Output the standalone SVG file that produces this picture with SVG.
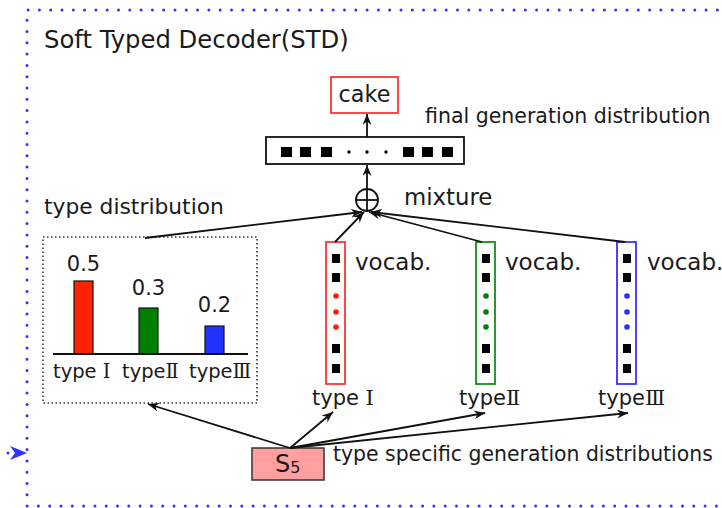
<svg xmlns="http://www.w3.org/2000/svg" width="722" height="508" viewBox="0 0 722 508">
<style>
text{font-family:"DejaVu Sans","Noto Sans CJK SC",sans-serif;fill:#1a1a1a}
.conn line{stroke:#111;stroke-width:1.8;fill:none}
.sq{fill:#000}
.rn{font-family:"DejaVu Serif","Noto Sans CJK SC",serif}
</style>
<defs>
<marker id="ah" markerUnits="userSpaceOnUse" markerWidth="14" markerHeight="12" refX="11" refY="4.5" orient="auto">
<path d="M0,0 L11,4.5 L0,9 L3.5,4.5 Z" fill="#111"/>
</marker>
</defs>
<rect width="722" height="508" fill="#fff"/>
<g id="frame">
<path d="M740,10 H27 V506 H740" fill="none" stroke="#3333ff" stroke-width="3" stroke-linecap="round" stroke-dasharray="0 11.3"/>
<path d="M27,453 L10,446 L15,453 L10,460 Z" fill="#3333ff"/>
<circle cx="8" cy="453" r="1.5" fill="#3333ff"/>
<text x="44" y="48" font-size="24.3">Soft Typed Decoder(STD)</text>
</g>
<g id="cake">
<rect x="331" y="77" width="67" height="36" fill="#fff" stroke="#ff3333" stroke-width="1.8"/>
<text x="364.5" y="102" text-anchor="middle" font-size="22.3">cake</text>
</g>
<g id="final">
<rect x="266" y="137" width="198" height="27" fill="#fff" stroke="#111" stroke-width="1.8"/>
<rect class="sq" x="281" y="147" width="11" height="10"/>
<rect class="sq" x="300" y="147" width="11" height="10"/>
<rect class="sq" x="321" y="147" width="11" height="10"/>
<circle cx="349" cy="152" r="1.7"/>
<circle cx="367" cy="152" r="1.7"/>
<circle cx="386" cy="152" r="1.7"/>
<rect class="sq" x="403" y="147" width="11" height="10"/>
<rect class="sq" x="422" y="147" width="11" height="10"/>
<rect class="sq" x="442" y="147" width="11" height="10"/>
<text x="425" y="123" font-size="20.5">final generation distribution</text>
</g>
<g id="mixture">
<circle cx="367" cy="200" r="11" fill="#fff" stroke="#111" stroke-width="1.8"/>
<line x1="356" y1="200" x2="378" y2="200" stroke="#111" stroke-width="1.8"/>
<line x1="367" y1="189" x2="367" y2="211" stroke="#111" stroke-width="1.8"/>
<text x="404" y="205" font-size="22.8">mixture</text>
</g>
<g id="typedist">
<text x="44" y="214" font-size="21.8">type distribution</text>
<rect x="43" y="237" width="214" height="166" fill="none" stroke="#333" stroke-width="1.6" stroke-dasharray="1.5 2.5"/>
<rect x="74" y="281" width="19" height="73" fill="#ff2200" stroke="#111" stroke-width="1.2"/>
<rect x="139" y="308" width="19" height="46" fill="#007f00" stroke="#111" stroke-width="1.2"/>
<rect x="205" y="326" width="19" height="28" fill="#2233ff" stroke="#111" stroke-width="1.2"/>
<line x1="53" y1="354" x2="248" y2="354" stroke="#111" stroke-width="1.8"/>
<text x="83.5" y="271" text-anchor="middle" font-size="21">0.5</text>
<text x="148.5" y="295" text-anchor="middle" font-size="21">0.3</text>
<text x="214.5" y="312" text-anchor="middle" font-size="21">0.2</text>
<text x="53" y="378" font-size="19.5">type <tspan class="rn">Ⅰ</tspan></text>
<text x="122" y="378" font-size="19.5">type<tspan class="rn">Ⅱ</tspan></text>
<text x="189" y="378" font-size="19.5">type<tspan class="rn">Ⅲ</tspan></text>
</g>
<g id="vocab1">
<rect x="326" y="242" width="19" height="142" fill="#fff" stroke="#ff3333" stroke-width="1.8"/>
<rect class="sq" x="332" y="254" width="8" height="9"/>
<rect class="sq" x="332" y="273" width="8" height="9"/>
<circle cx="336" cy="296" r="2.8" fill="#ff2200"/>
<circle cx="336" cy="312" r="2.8" fill="#ff2200"/>
<circle cx="336" cy="327" r="2.8" fill="#ff2200"/>
<rect class="sq" x="332" y="344" width="8" height="9"/>
<rect class="sq" x="332" y="364" width="8" height="9"/>
<text x="355" y="270" font-size="23">vocab.</text>
<text x="312" y="405" font-size="21">type <tspan class="rn">Ⅰ</tspan></text>
</g>
<g id="vocab2">
<rect x="476" y="242" width="19" height="142" fill="#fff" stroke="#1a8c1a" stroke-width="1.8"/>
<rect class="sq" x="482" y="254" width="8" height="9"/>
<rect class="sq" x="482" y="273" width="8" height="9"/>
<circle cx="486" cy="296" r="2.8" fill="#007f00"/>
<circle cx="486" cy="312" r="2.8" fill="#007f00"/>
<circle cx="486" cy="327" r="2.8" fill="#007f00"/>
<rect class="sq" x="482" y="344" width="8" height="9"/>
<rect class="sq" x="482" y="364" width="8" height="9"/>
<text x="505" y="270" font-size="23">vocab.</text>
<text x="459" y="405" font-size="21">type<tspan class="rn">Ⅱ</tspan></text>
</g>
<g id="vocab3">
<rect x="617" y="242" width="19" height="142" fill="#fff" stroke="#3333ff" stroke-width="1.8"/>
<rect class="sq" x="623" y="254" width="8" height="9"/>
<rect class="sq" x="623" y="273" width="8" height="9"/>
<circle cx="627" cy="296" r="2.8" fill="#2233ff"/>
<circle cx="627" cy="312" r="2.8" fill="#2233ff"/>
<circle cx="627" cy="327" r="2.8" fill="#2233ff"/>
<rect class="sq" x="623" y="344" width="8" height="9"/>
<rect class="sq" x="623" y="364" width="8" height="9"/>
<text x="647" y="270" font-size="23">vocab.</text>
<text x="598" y="405" font-size="21">type<tspan class="rn">Ⅲ</tspan></text>
</g>
<g id="s5">
<rect x="252" y="448" width="72" height="32" fill="#ffa0a0" stroke="#333" stroke-width="1.5"/>
<text x="275" y="472" font-size="24">S<tspan font-size="16" dy="1">5</tspan></text>
<text x="333" y="461" font-size="20.4">type specific generation distributions</text>
</g>
<g class="conn">
<line x1="367" y1="137" x2="367" y2="114" marker-end="url(#ah)"/>
<line x1="367" y1="189" x2="367" y2="165" marker-end="url(#ah)"/>
<line x1="145" y1="238" x2="362" y2="212" marker-end="url(#ah)"/>
<line x1="335" y1="242" x2="364" y2="212" marker-end="url(#ah)"/>
<line x1="482" y1="242" x2="369" y2="212" marker-end="url(#ah)"/>
<line x1="625" y1="242" x2="371" y2="212" marker-end="url(#ah)"/>
<line x1="290" y1="448" x2="148" y2="404" marker-end="url(#ah)"/>
<line x1="290" y1="448" x2="333" y2="412" marker-end="url(#ah)"/>
<line x1="290" y1="448" x2="485" y2="413" marker-end="url(#ah)"/>
<line x1="290" y1="448" x2="628" y2="413" marker-end="url(#ah)"/>
</g>
</svg>
